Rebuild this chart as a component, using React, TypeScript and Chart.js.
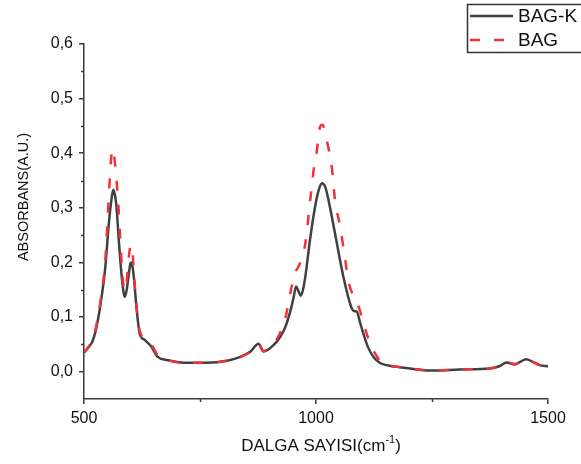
import React, { useEffect, useRef } from 'react';
import { Chart, registerables } from 'chart.js';

Chart.register(...registerables);

// ---- data ----
const bagkWave = [500, 510, 518, 527, 537, 546, 553, 559, 563, 567, 570, 575, 582, 588, 592, 595, 600, 602, 605, 608, 613, 620, 631, 645, 659, 681, 715, 765, 808, 837, 859, 876, 887, 909, 923, 934, 946, 952, 957, 962, 967, 972, 977, 987, 998, 1006, 1013, 1020, 1027, 1041, 1059, 1077, 1082, 1088, 1095, 1102, 1112, 1124, 1138, 1152, 1174, 1210, 1253, 1310, 1375, 1395, 1411, 1420, 1428, 1440, 1453, 1465, 1482, 1500];
const bagkAbs = [0.035, 0.045, 0.055, 0.082, 0.131, 0.192, 0.266, 0.314, 0.333, 0.322, 0.302, 0.241, 0.168, 0.137, 0.150, 0.168, 0.198, 0.200, 0.190, 0.168, 0.119, 0.070, 0.058, 0.046, 0.027, 0.021, 0.0165, 0.0165, 0.020, 0.027, 0.037, 0.051, 0.037, 0.049, 0.064, 0.082, 0.115, 0.137, 0.156, 0.148, 0.139, 0.150, 0.174, 0.241, 0.302, 0.333, 0.345, 0.338, 0.314, 0.253, 0.174, 0.116, 0.111, 0.110, 0.090, 0.070, 0.045, 0.027, 0.016, 0.012, 0.009, 0.005, 0.002, 0.004, 0.006, 0.010, 0.017, 0.015, 0.0135, 0.018, 0.023, 0.019, 0.012, 0.010];

const bagWave = [500, 510, 518, 527, 537, 546, 551, 555, 559, 562, 565, 568, 573, 578, 583, 588, 592, 596, 600, 602, 605, 608, 613, 620, 631, 643, 650, 659, 681, 715, 765, 808, 837, 859, 876, 887, 909, 921, 934, 945, 952, 957, 962, 968, 977, 987, 995, 1002, 1009, 1014, 1023, 1034, 1041, 1052, 1063, 1070, 1080, 1088, 1099, 1109, 1118, 1127, 1140, 1152, 1174, 1210, 1253, 1310, 1375, 1395, 1411, 1420, 1428, 1440, 1453, 1465, 1482, 1500];
const bagAbs = [0.035, 0.046, 0.058, 0.086, 0.138, 0.205, 0.280, 0.345, 0.395, 0.408, 0.395, 0.370, 0.320, 0.245, 0.175, 0.148, 0.165, 0.205, 0.230, 0.232, 0.215, 0.175, 0.122, 0.075, 0.062, 0.055, 0.043, 0.030, 0.021, 0.0165, 0.0165, 0.020, 0.027, 0.037, 0.050, 0.038, 0.052, 0.068, 0.098, 0.145, 0.172, 0.185, 0.192, 0.205, 0.235, 0.310, 0.370, 0.406, 0.449, 0.452, 0.424, 0.375, 0.314, 0.266, 0.205, 0.165, 0.140, 0.128, 0.100, 0.070, 0.050, 0.034, 0.018, 0.012, 0.009, 0.005, 0.002, 0.004, 0.006, 0.010, 0.017, 0.015, 0.0135, 0.018, 0.023, 0.019, 0.012, 0.010];

const seriesLabels = ['BAG-K', 'BAG'];
const xMajorTicks = [500, 1000, 1500];
const xMinorTicks = [750, 1250];
const yMajorTicks = [0, 0.1, 0.2, 0.3, 0.4, 0.5, 0.6];
const yMinorTicks = [0.05, 0.15, 0.25, 0.35, 0.45, 0.55];
const xTitle = 'DALGA SAYISI(cm';
const xTitleSup = '-1';
const yTitle = 'ABSORBANS(A.U.)';

const FONT = '"Liberation Sans", Arial, sans-serif';
const AXIS = '#3a3a3a';
const DARK = '#404040';
const RED = '#ef3339';
const DASH = [10, 14];

const decorPlugin = {
  id: 'decor',
  afterDraw(chart: any) {
    const { ctx, scales } = chart;
    const x = scales.x;
    const y = scales.y;
    ctx.save();
    // minor ticks
    ctx.strokeStyle = AXIS;
    ctx.lineWidth = 1.5;
    xMinorTicks.forEach((v) => {
      const px = Math.round(x.getPixelForValue(v)) + 0.5;
      ctx.beginPath();
      ctx.moveTo(px, y.bottom);
      ctx.lineTo(px, y.bottom + 3);
      ctx.stroke();
    });
    yMinorTicks.forEach((v) => {
      const py = Math.round(y.getPixelForValue(v)) + 0.5;
      ctx.beginPath();
      ctx.moveTo(x.left, py);
      ctx.lineTo(x.left - 3, py);
      ctx.stroke();
    });
    // axis titles
    ctx.fillStyle = '#111';
    ctx.textBaseline = 'middle';
    ctx.font = `17px ${FONT}`;
    const mainW = ctx.measureText(xTitle).width;
    ctx.font = `11px ${FONT}`;
    const supW = ctx.measureText(xTitleSup).width;
    ctx.font = `17px ${FONT}`;
    const closeW = ctx.measureText(')').width;
    const total = mainW + supW + closeW;
    const cx = (x.left + x.right) / 2 + 5;
    let sx = cx - total / 2;
    const ty = 446;
    ctx.textAlign = 'left';
    ctx.fillText(xTitle, sx, ty);
    sx += mainW;
    ctx.font = `11px ${FONT}`;
    ctx.fillText(xTitleSup, sx, ty - 6);
    sx += supW;
    ctx.font = `17px ${FONT}`;
    ctx.fillText(')', sx, ty);

    ctx.save();
    ctx.translate(24, 197);
    ctx.rotate(-Math.PI / 2);
    ctx.textAlign = 'center';
    ctx.font = `14.5px ${FONT}`;
    ctx.fillText(yTitle, 0, 0);
    ctx.restore();

    // legend box
    ctx.fillStyle = '#fff';
    ctx.fillRect(467, 4, 120, 48);
    ctx.strokeStyle = '#333';
    ctx.lineWidth = 1.5;
    ctx.strokeRect(467.5, 4.5, 120, 48);
    const ds = chart.data.datasets;
    const rows = [16, 40];
    ds.forEach((d: any, i: number) => {
      ctx.beginPath();
      ctx.strokeStyle = d.borderColor;
      ctx.lineWidth = d.borderWidth;
      ctx.setLineDash(d.borderDash || []);
      ctx.moveTo(470, rows[i]);
      ctx.lineTo(513, rows[i]);
      ctx.stroke();
      ctx.setLineDash([]);
      ctx.fillStyle = '#111';
      ctx.font = `19px ${FONT}`;
      ctx.textAlign = 'left';
      ctx.textBaseline = 'middle';
      ctx.fillText(d.label, 518, rows[i] + 1);
    });
    ctx.restore();
  },
};

export default function App() {
  const ref = useRef<HTMLCanvasElement | null>(null);
  useEffect(() => {
    document.body.style.margin = '0';
    const canvas = ref.current;
    if (!canvas) return;
    const chart = new Chart(canvas, {
      type: 'line',
      data: {
        datasets: [
          {
            label: seriesLabels[0],
            data: bagkWave.map((w, i) => ({ x: w, y: bagkAbs[i] })),
            borderColor: DARK,
            borderWidth: 2.5,
            pointRadius: 0,
            cubicInterpolationMode: 'monotone',
            fill: false,
            order: 1,
          },
          {
            label: seriesLabels[1],
            data: bagWave.map((w, i) => ({ x: w, y: bagAbs[i] })),
            borderColor: RED,
            borderWidth: 2.5,
            borderDash: DASH,
            pointRadius: 0,
            cubicInterpolationMode: 'monotone',
            fill: false,
            order: 0,
          },
        ],
      },
      options: {
        responsive: false,
        animation: false,
        devicePixelRatio: 1,
        layout: { padding: { top: 44, right: 33, left: 0, bottom: 0 } },
        plugins: { legend: { display: false }, tooltip: { enabled: false } },
        scales: {
          x: {
            type: 'linear',
            min: 500,
            max: 1500,
            afterBuildTicks: (s: any) => {
              s.ticks = xMajorTicks.map((v) => ({ value: v }));
            },
            afterFit: (s: any) => {
              s.height = 65;
            },
            grid: { display: true, drawOnChartArea: false, drawTicks: true, tickLength: 5, color: AXIS, lineWidth: 1.5 },
            border: { display: true, color: AXIS, width: 1.5 },
            ticks: {
              color: '#111',
              font: { family: FONT, size: 16 },
              padding: 5,
              maxRotation: 0,
              autoSkip: false,
              callback: (v: any) => String(v),
            },
          },
          y: {
            type: 'linear',
            min: -0.05,
            max: 0.6,
            afterBuildTicks: (s: any) => {
              s.ticks = yMajorTicks.map((v) => ({ value: v }));
            },
            afterFit: (s: any) => {
              s.width = 84;
            },
            grid: { display: true, drawOnChartArea: false, drawTicks: true, tickLength: 5, color: AXIS, lineWidth: 1.5 },
            border: { display: true, color: AXIS, width: 1.5 },
            ticks: {
              color: '#111',
              font: { family: FONT, size: 16 },
              padding: 6,
              autoSkip: false,
              callback: (v: any) => Number(v).toFixed(1).replace('.', ','),
            },
          },
        },
      },
      plugins: [decorPlugin],
    } as any);
    return () => chart.destroy();
  }, []);
  return (
    <div style={{ width: 581, height: 464, background: '#fff' }}>
      <canvas ref={ref} width={581} height={464} style={{ display: 'block' }} />
    </div>
  );
}
